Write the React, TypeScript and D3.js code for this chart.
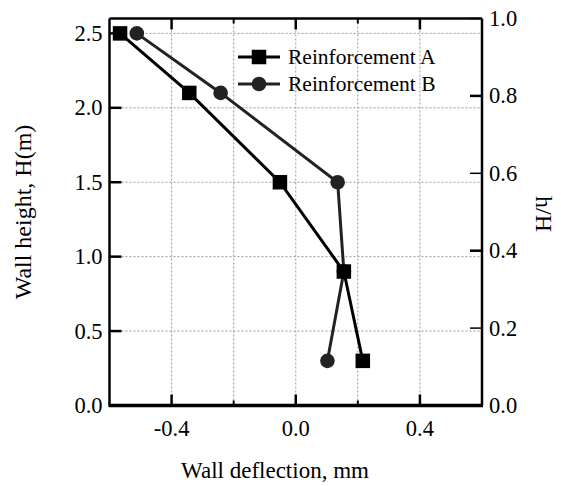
import React from "react";
import * as d3 from "d3";

const heights = [2.5, 2.1, 1.5, 0.9, 0.3];
const deflectionA = [-0.566, -0.343, -0.051, 0.155, 0.216];
const deflectionB = [-0.512, -0.242, 0.135, 0.155, 0.102];
const xTicks = [-0.4, 0.0, 0.4];
const xMinorTicks = [-0.2, 0.2];
const yTicks = [0.0, 0.5, 1.0, 1.5, 2.0, 2.5];
const rTicks = [0.0, 0.2, 0.4, 0.6, 0.8, 1.0];
const seriesNames = ["Reinforcement A", "Reinforcement B"];

const W = 561, H = 486;
const L = 109.5, R = 482, T = 18.5, B = 405.5;
const FONT = "'Liberation Serif', 'Times New Roman', Times, serif";

export default function App() {
  const x = d3.scaleLinear().domain([-0.6, 0.6]).range([L, R]);
  const y = d3.scaleLinear().domain([0, 2.6]).range([B, T]);
  const yr = d3.scaleLinear().domain([0, 1]).range([B, T]);
  const line = d3.line<[number, number]>().x(d => x(d[0])).y(d => y(d[1]));
  const ptsA: [number, number][] = deflectionA.map((v, i) => [v, heights[i]]);
  const ptsB: [number, number][] = deflectionB.map((v, i) => [v, heights[i]]);
  const gridX = [...xTicks, ...xMinorTicks];
  const gridY = yTicks.filter(t => t > 0);
  const ms = 14.5;
  const fs = 22.5;
  const lfs = 21.5;
  return (
    <svg width={W} height={H} style={{ position: "absolute", left: 0, top: 0 }} fontFamily={FONT}>
      <rect width={W} height={H} fill="#fff" />
      {gridX.map(t => (
        <line key={"gx" + t} x1={x(t)} x2={x(t)} y1={T} y2={B} stroke="#999" strokeWidth={1} strokeDasharray="2,2" />
      ))}
      {gridY.map(t => (
        <line key={"gy" + t} x1={L} x2={R} y1={y(t)} y2={y(t)} stroke="#999" strokeWidth={1} strokeDasharray="2,2" />
      ))}
      {/* frame */}
      <line x1={L} x2={R} y1={T} y2={T} stroke="#000" strokeWidth={2.5} />
      <line x1={L} x2={L} y1={T} y2={B} stroke="#000" strokeWidth={2.5} />
      <line x1={R} x2={R} y1={T} y2={B} stroke="#000" strokeWidth={2.5} />
      <line x1={L - 1} x2={R + 1} y1={B} y2={B} stroke="#000" strokeWidth={3.5} />
      {/* x ticks */}
      {xTicks.map(t => (
        <g key={"xt" + t}>
          <line x1={x(t)} x2={x(t)} y1={B} y2={B - 11} stroke="#000" strokeWidth={2.5} />
          <line x1={x(t)} x2={x(t)} y1={T} y2={T + 11} stroke="#000" strokeWidth={2.5} />
          <text x={x(t)} y={436} textAnchor="middle" fontSize={fs} fontFamily={FONT}>{t === 0 ? "0.0" : t.toFixed(1)}</text>
        </g>
      ))}
      {xMinorTicks.map(t => (
        <g key={"xm" + t}>
          <line x1={x(t)} x2={x(t)} y1={B} y2={B - 5} stroke="#000" strokeWidth={2} />
          <line x1={x(t)} x2={x(t)} y1={T} y2={T + 5} stroke="#000" strokeWidth={2} />
        </g>
      ))}
      {/* left y ticks */}
      {yTicks.map(t => (
        <g key={"yt" + t}>
          <line x1={L} x2={L + 12} y1={y(t)} y2={y(t)} stroke="#000" strokeWidth={2.5} />
          <text x={102.5} y={y(t) + 7.5} textAnchor="end" fontSize={fs} fontFamily={FONT}>{t.toFixed(1)}</text>
        </g>
      ))}
      {/* right y ticks */}
      {rTicks.map((t, i) => (
        <g key={"rt" + t}>
          <line x1={R} x2={R - 12} y1={yr(t)} y2={yr(t)} stroke="#000" strokeWidth={i % 2 === 0 ? 2.5 : 1.5} />
          <text x={489} y={yr(t) + 7.5} textAnchor="start" fontSize={fs} fontFamily={FONT}>{t.toFixed(1)}</text>
        </g>
      ))}
      {/* axis titles */}
      <text x={275} y={478} textAnchor="middle" fontSize={23} fontFamily={FONT}>Wall deflection, mm</text>
      <text transform={`translate(31,212) rotate(-90)`} textAnchor="middle" fontSize={24} fontFamily={FONT}>Wall height, H(m)</text>
      <text transform={`translate(536,214) rotate(90)`} textAnchor="middle" fontSize={24} fontFamily={FONT}>h/H</text>
      {/* series */}
      <path d={line(ptsB) || ""} fill="none" stroke="#222" strokeWidth={3} />
      <path d={line(ptsA) || ""} fill="none" stroke="#000" strokeWidth={3} />
      {ptsB.map((p, i) => (
        <circle key={"b" + i} cx={x(p[0])} cy={y(p[1])} r={7.3} fill="#222" />
      ))}
      {ptsA.map((p, i) => (
        <rect key={"a" + i} x={x(p[0]) - ms / 2} y={y(p[1]) - ms / 2} width={ms} height={ms} fill="#000" />
      ))}
      {/* legend */}
      <g>
        <line x1={238} x2={280} y1={57} y2={57} stroke="#000" strokeWidth={3} />
        <rect x={259 - ms / 2} y={57 - ms / 2} width={ms} height={ms} fill="#000" />
        <text x={288} y={64} fontSize={lfs} fontFamily={FONT}>{seriesNames[0]}</text>
        <line x1={238} x2={280} y1={84} y2={84} stroke="#222" strokeWidth={3} />
        <circle cx={259} cy={84} r={7.3} fill="#222" />
        <text x={288} y={91} fontSize={lfs} fontFamily={FONT}>{seriesNames[1]}</text>
      </g>
    </svg>
  );
}
